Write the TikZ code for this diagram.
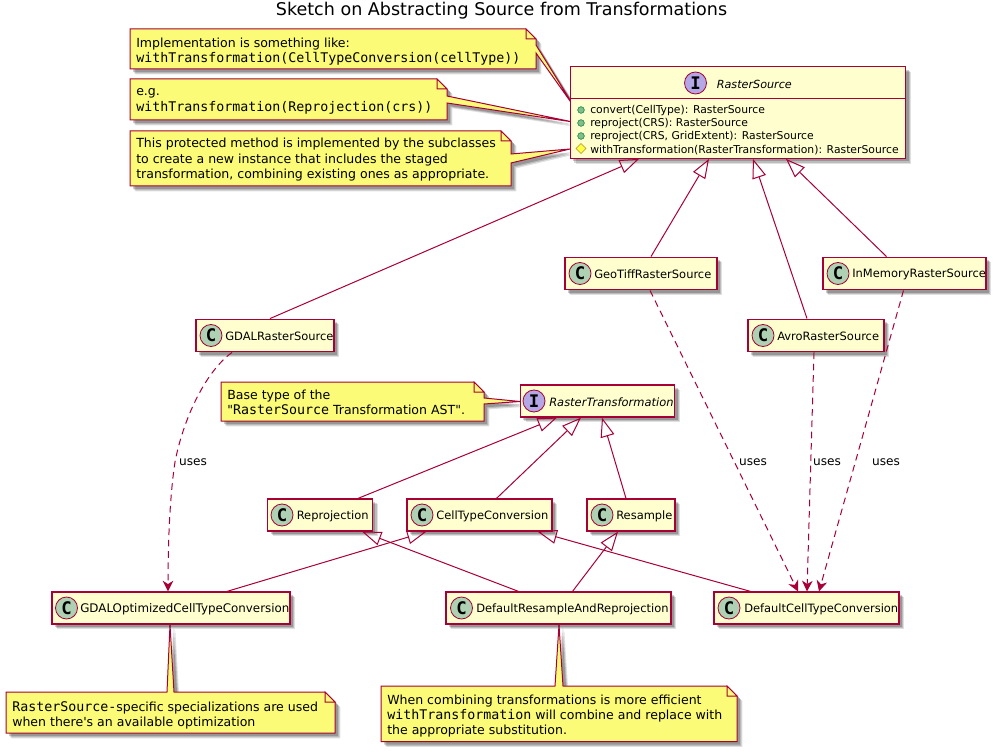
\documentclass[tikz,border=0pt]{standalone}
\usepackage{fontspec}
\setmainfont{DejaVu Sans}[Ligatures=TeXOff]
\setmonofont{DejaVu Sans Mono}
\usetikzlibrary{arrows.meta,shadows,calc,shapes.geometric}
\definecolor{bd}{HTML}{A80036}
\definecolor{clsfill}{HTML}{FEFECE}
\definecolor{notefill}{HTML}{FBFB77}
\definecolor{cicon}{HTML}{ADD1B2}
\definecolor{iicon}{HTML}{B4A7E5}
\definecolor{pubicon}{HTML}{84BE84}
\definecolor{pubedge}{HTML}{038048}
\definecolor{proticon}{HTML}{FFFF44}
\definecolor{protedge}{HTML}{B38D22}
\tikzset{
  softshadow/.style={
    general shadow={shadow xshift=4pt,shadow yshift=-4pt,fill=black,opacity=.12},
    general shadow={shadow xshift=3.2pt,shadow yshift=-3.2pt,fill=black,opacity=.16},
    general shadow={shadow xshift=2.4pt,shadow yshift=-2.4pt,fill=black,opacity=.2}},
  box/.style={draw=bd,line width=.9pt,fill=clsfill,inner sep=0pt,softshadow},
  notepoly/.style={draw=bd,line width=.75pt,fill=notefill,line join=miter,softshadow},
  fold/.style={draw=bd,line width=.75pt,fill=notefill},
  clsicon/.style={circle,draw=bd,line width=.6pt,fill=cicon,minimum size=16.5pt,inner sep=0pt,font=\fontsize{13}{13}\bfseries\ttfamily},
  ifcicon/.style={circle,draw=bd,line width=.6pt,fill=iicon,minimum size=16.5pt,inner sep=0pt,font=\fontsize{13}{13}\bfseries\ttfamily},
  clstext/.style={anchor=west,inner sep=0pt,yshift=-.7pt,font=\fontsize{8.6}{11}\selectfont},
  methodtext/.style={anchor=west,inner sep=0pt,yshift=-.6pt,font=\fontsize{8.1}{10}\selectfont},
  notetext/.style={anchor=north west,inner sep=0pt,align=left,font=\fontsize{9.4}{11.5}\selectfont},
  pub/.style={circle,draw=pubedge,line width=.4pt,fill=pubicon,minimum size=5pt,inner sep=0pt},
  prot/.style={diamond,draw=protedge,line width=.4pt,fill=proticon,minimum size=7.5pt,inner sep=0pt},
  inherit/.style={draw=bd,line width=.75pt,-{Triangle[open,length=14.5pt,width=10.5pt,line width=.75pt]}},
  uses/.style={draw=bd,line width=.75pt,dash pattern=on 5pt off 3.5pt,-{Stealth[length=8pt,width=8pt,inset=2.5pt]}},
  edgelabel/.style={inner sep=0pt,font=\fontsize{9.1}{11}\selectfont},
}
\newcommand{\mono}[1]{{\ttfamily\fontsize{9.97}{11.5}\selectfont #1}}
\begin{document}
\begin{tikzpicture}[x=.75pt,y=-.75pt]
\useasboundingbox (0,0) rectangle (996,752);
\node[inner sep=0pt,font=\fontsize{13.15}{15}\selectfont] (title) at (501.5,11) {Sketch on Abstracting Source from Transformations};

% notes
\path[notepoly] (130,29) -- (526,29) -- (536,39) -- (536,45) -- (575,108) -- (536,53) -- (536,69) -- (130,69) -- cycle;
\path[fold] (526,29) -- (526,39) -- (536,39) -- cycle;
\node[notetext] (n1) at (136,37.5) {Implementation is something like:\\\mono{withTransformation(CellTypeConversion(cellType))}};

\path[notepoly] (130,79) -- (437,79) -- (447,89) -- (447,96) -- (573,122) -- (447,103) -- (447,120) -- (130,120) -- cycle;
\path[fold] (437,79) -- (437,89) -- (447,89) -- cycle;
\node[notetext] (n2) at (136,88.5) {e.g.\\\mono{withTransformation(Reprojection(crs))}};

\path[notepoly] (130,131) -- (501,131) -- (511,141) -- (511,154) -- (570,149) -- (511,163) -- (511,186) -- (130,186) -- cycle;
\path[fold] (501,131) -- (501,141) -- (511,141) -- cycle;
\node[notetext] (n3) at (136,138) {This protected method is implemented by the subclasses\\to create a new instance that includes the staged\\transformation, combining existing ones as appropriate.};

\path[notepoly] (221,382) -- (474,382) -- (484,392) -- (484,398) -- (520,401.5) -- (484,404) -- (484,421) -- (221,421) -- cycle;
\path[fold] (474,382) -- (474,392) -- (484,392) -- cycle;
\node[notetext] (n4) at (227,389.5) {Base type of the\\"\mono{RasterSource} Transformation AST".};

\path[notepoly] (6,692) -- (167,692) -- (170,625) -- (174,692) -- (325,692) -- (335,702) -- (335,733) -- (6,733) -- cycle;
\path[fold] (325,692) -- (325,702) -- (335,702) -- cycle;
\node[notetext] (n5) at (12,701) {\mono{RasterSource-}specific specializations are used\\when there's an available optimization};

\path[notepoly] (381,686) -- (555,686) -- (559,625) -- (563,686) -- (727,686) -- (737,696) -- (737,741.5) -- (381,741.5) -- cycle;
\path[fold] (727,686) -- (727,696) -- (737,696) -- cycle;
\node[notetext] (n6) at (387,694.5) {When combining transformations is more efficient\\\mono{withTransformation} will combine and replace with\\the appropriate substitution.};

% RasterSource
\node[box,minimum width=251.7pt,minimum height=68.7pt] (rs) at (738,112.5) {};
\draw[draw=bd,line width=.8pt] (rs.west |- 0,98.3) coordinate (rsl) -- (rs.east |- 0,98.3) coordinate (rsr);
\node[ifcicon] (rsicon) at (695.5,83) {I};
\node[clstext,font=\fontsize{8.4}{10}\itshape] (rstitle) at (716.5,83) {RasterSource};
\node[pub] (m1i) at (581,110) {};
\node[pub] (m2i) at (581,123) {};
\node[pub] (m3i) at (581,136) {};
\node[prot] (m4i) at (581,148.5) {};
\node[methodtext] (m1) at (590,110) {convert(CellType): RasterSource};
\node[methodtext] (m2) at (590,123) {reproject(CRS): RasterSource};
\node[methodtext] (m3) at (590,136) {reproject(CRS, GridExtent): RasterSource};
\node[methodtext] (m4) at (590,149) {withTransformation(RasterTransformation): RasterSource};

% classes
\node[box,minimum width=114pt,minimum height=24.5pt] (geo) at (641,273.5) {};
\node[clsicon] (geoi) at (580,273.5) {C};
\node[clstext] (geot) at (594,273.5) {GeoTiffRasterSource};
\node[box,minimum width=122.2pt,minimum height=24.5pt] (mem) at (904.5,273.5) {};
\node[clsicon] (memi) at (838,273.5) {C};
\node[clstext] (memt) at (852,273.5) {InMemoryRasterSource};
\node[box,minimum width=103.5pt,minimum height=24.5pt] (gdal) at (265,335.5) {};
\node[clsicon] (gdali) at (211,335.5) {C};
\node[clstext] (gdalt) at (225,335.5) {GDALRasterSource};
\node[box,minimum width=102pt,minimum height=24.5pt] (avro) at (816,335.5) {};
\node[clsicon] (avroi) at (763,335.5) {C};
\node[clstext] (avrot) at (777,335.5) {AvroRasterSource};
\node[box,minimum width=116pt,minimum height=24pt] (rt) at (597.5,401) {};
\node[ifcicon] (rti) at (534,401) {I};
\node[clstext,font=\fontsize{8.6}{11}\itshape] (rtt) at (549,401) {RasterTransformation};
\node[box,minimum width=78.4pt,minimum height=24pt] (rep) at (320,515) {};
\node[clsicon] (repi) at (282,515) {C};
\node[clstext] (rept) at (296.5,515) {Reprojection};
\node[box,minimum width=108.7pt,minimum height=24pt] (ctc) at (479.5,515) {};
\node[clsicon] (ctci) at (422,515) {C};
\node[clstext] (ctct) at (436,515) {CellTypeConversion};
\node[box,minimum width=66pt,minimum height=24pt] (res) at (631,515) {};
\node[clsicon] (resi) at (602,515) {C};
\node[clstext] (rest) at (616,515) {Resample};
\node[box,minimum width=178.5pt,minimum height=24pt] (gopt) at (171,608) {};
\node[clsicon] (gopti) at (66.5,608) {C};
\node[clstext,font=\fontsize{8.9}{11}\selectfont] (goptt) at (80,608) {GDALOptimizedCellTypeConversion};
\node[box,minimum width=168.7pt,minimum height=24pt] (dra) at (558.5,608) {};
\node[clsicon] (drai) at (461.5,608) {C};
\node[clstext] (drat) at (476,608) {DefaultResampleAndReprojection};
\node[box,minimum width=138.7pt,minimum height=24pt] (dct) at (806.5,608) {};
\node[clsicon] (dcti) at (729,608) {C};
\node[clstext] (dctt) at (744,608) {DefaultCellTypeConversion};

% inheritance
\draw[inherit] ($(gdal.north)+(5,0)$) -- ($(rs.south)+(-99,0)$);
\draw[inherit] ($(geo.north)+(10,0)$) -- ($(rs.south)+(-29,0)$);
\draw[inherit] ($(avro.north)+(-9,0)$) -- ($(rs.south)+(15,0)$);
\draw[inherit] ($(mem.north)+(-18,0)$) -- ($(rs.south)+(48,0)$);
\draw[inherit] ($(rep.north)+(38,0)$) -- ($(rt.south)+(-40.5,0)$);
\draw[inherit] ($(ctc.north)+(17,0)$) -- ($(rt.south)+(-16.5,0)$);
\draw[inherit] ($(res.north)+(-5,0)$) -- ($(rt.south)+(4.5,0)$);
\draw[inherit] ($(gopt.north)+(56,0)$) -- ($(ctc.south)+(-53,0)$);
\draw[inherit] ($(dra.north)+(-40,0)$) -- ($(rep.south)+(42,0)$);
\draw[inherit] ($(dra.north)+(14,0)$) -- ($(res.south)+(-13,0)$);
\draw[inherit] ($(dct.north)+(-56,0)$) -- ($(ctc.south)+(58,0)$);

% uses
\draw[uses] ($(gdal.south)+(-33,0)$) .. controls (205,372) and (183,420) .. (175,462) .. controls (170,495) and (168,540) .. ($(gopt.north)+(-3,0)$);
\draw[uses] ($(geo.south)+(9,0)$) -- ($(dct.north)+(-8.5,0)$);
\draw[uses] ($(avro.south)+(-2,0)$) -- ($(dct.north)+(0.5,0)$);
\draw[uses] ($(mem.south)+(-1,0)$) -- ($(dct.north)+(12.5,0)$);
\node[edgelabel] (u1) at (193,462) {uses};
\node[edgelabel] (u2) at (753,462) {uses};
\node[edgelabel] (u3) at (827,462) {uses};
\node[edgelabel] (u4) at (886,462) {uses};
\end{tikzpicture}
\end{document}
